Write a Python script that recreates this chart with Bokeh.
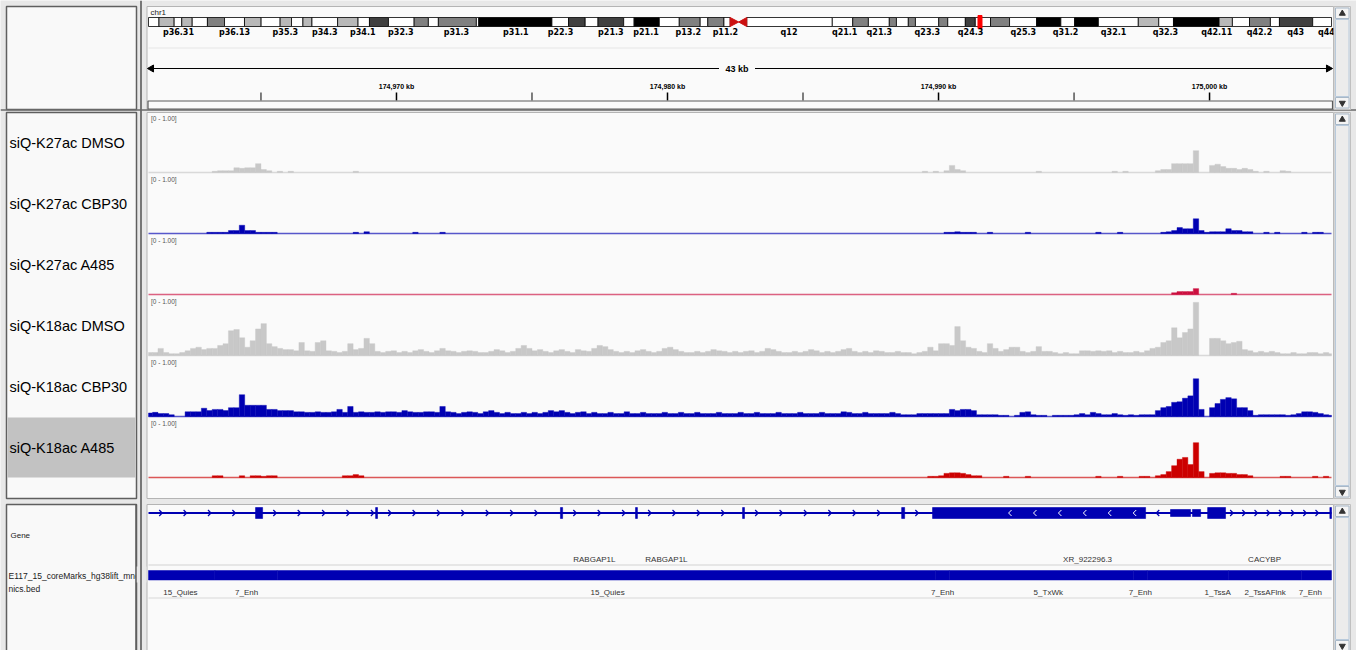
import math
from bokeh.plotting import figure
from bokeh.models import Range1d, ColumnDataSource
from bokeh.embed import file_html
from bokeh.resources import INLINE
from bokeh.core.properties import value

W, H = 1356, 650
FONT = "Liberation Sans"
BAND_FONT = "DejaVu Sans"

# ---------------- locus ----------------
CHROM = "chr1"
CHROM_LEN_MB = 248.956
VIEW_START_KB = 174960.85
VIEW_END_KB = 175004.50
SPAN_LABEL = "43 kb"

# ---------------- chr1 cytobands (Mb) ----------------
band_start = [0.0, 2.2, 5.4, 7.0, 9.2, 12.4, 16.0, 20.2, 23.7, 27.7, 30.1, 32.5, 34.4, 39.8,
              44.1, 46.5, 50.5, 55.9, 58.9, 61.0, 69.0, 69.5, 84.9, 88.4, 91.9, 94.6, 100.0,
              102.2, 107.5, 111.7, 116.1, 117.7, 121.1,
              125.9, 143.9, 148.2, 151.5, 155.9, 157.4, 159.9, 161.4, 166.3, 168.2, 171.9,
              174.0, 177.2, 181.2, 186.9, 192.0, 194.9, 199.9, 208.3, 212.6, 215.7, 225.3,
              228.1, 231.7, 236.1, 238.0, 245.0]
band_stain = ["gneg", "gpos25", "gneg", "gpos25", "gneg", "gpos50", "gneg", "gpos25", "gneg",
              "gpos25", "gneg", "gpos25", "gneg", "gpos25", "gneg", "gpos75", "gneg", "gpos50",
              "gneg", "gpos50", "gneg", "gpos100", "gneg", "gpos75", "gneg", "gpos75", "gneg",
              "gpos100", "gneg", "gpos50", "gneg", "gpos50", "gneg",
              "gneg", "gneg", "gpos50", "gneg", "gpos50", "gneg", "gpos50", "gneg", "gpos50",
              "gneg", "gpos75", "gneg", "gpos50", "gneg", "gpos100", "gneg", "gpos100", "gneg",
              "gpos25", "gneg", "gpos100", "gpos25", "gneg", "gpos50", "gneg", "gpos75", "gneg"]
CEN_START_MB, CEN_MID_MB, CEN_END_MB = 122.4, 124.2, 125.9

band_names = ["p36.31", "p36.13", "p35.3", "p34.3", "p34.1", "p32.3", "p31.3", "p31.1",
              "p22.3", "p21.3", "p21.1", "p13.2", "p11.2", "q12", "q21.1", "q21.3", "q23.3",
              "q24.3", "q25.3", "q31.2", "q32.1", "q32.3", "q42.11", "q42.2", "q43", "q44"]
band_name_mb = [6.3, 18.1, 28.8, 37.1, 45.1, 53.1, 64.8, 77.3, 86.7, 97.3, 104.7, 113.6,
                121.4, 134.8, 146.5, 153.8, 163.9, 173.0, 184.1, 193.0, 203.1, 214.0, 224.8,
                233.8, 241.4, 247.9]

ruler_kb = [174965, 174970, 174975, 174980, 174985, 174990, 174995, 175000]
ruler_text = ["", "174,970 kb", "", "174,980 kb", "", "174,990 kb", "", "175,000 kb"]

# ---------------- coverage tracks (0.2 kb bins, data range 0 - 1.00) ----------------
BIN_START_KB = 174960.8
BIN_KB = 0.2

track_names = ["siQ-K27ac DMSO", "siQ-K27ac CBP30", "siQ-K27ac A485",
               "siQ-K18ac DMSO", "siQ-K18ac CBP30", "siQ-K18ac A485"]
track_colors = ["#c8c8c8", "#0000b2", "#cc1040", "#c8c8c8", "#0000b2", "#cc0000"]
track_range_label = "[0 - 1.00]"

k27_dmso_idx = [12, 13, 14, 15, 16, 17, 18, 19, 20, 21, 22, 24, 26, 38, 143, 145, 147, 148, 149, 150,
                164, 178, 180, 186, 187, 188, 189, 190, 191, 192, 193, 196, 197, 198, 199, 200, 201,
                202, 203, 204, 206, 209, 210]
k27_dmso_val = [0.02, 0.03, 0.03, 0.03, 0.08, 0.07, 0.08, 0.08, 0.15, 0.05, 0.03, 0.02, 0.02, 0.02,
                0.02, 0.02, 0.03, 0.12, 0.05, 0.03, 0.02, 0.02, 0.02, 0.03, 0.05, 0.05, 0.15, 0.15,
                0.15, 0.15, 0.37, 0.12, 0.14, 0.10, 0.07, 0.07, 0.05, 0.07, 0.05, 0.02, 0.02, 0.03,
                0.02]

k27_cbp30_idx = [11, 12, 13, 14, 15, 16, 17, 18, 19, 20, 21, 22, 23, 38, 40, 49, 54, 147, 148, 149,
                 150, 151, 152, 155, 162, 175, 179, 187, 188, 189, 190, 191, 192, 193, 194, 195, 196,
                 197, 198, 199, 200, 201, 202, 203, 206, 208, 213, 215, 216]
k27_cbp30_val = [0.02, 0.02, 0.02, 0.02, 0.05, 0.05, 0.14, 0.05, 0.05, 0.02, 0.02, 0.02, 0.02,
                 0.02, 0.03, 0.02, 0.02, 0.02, 0.02, 0.03, 0.02, 0.02, 0.02, 0.02, 0.02, 0.02, 0.02,
                 0.02, 0.03, 0.05, 0.10, 0.08, 0.08, 0.25, 0.05, 0.02, 0.03, 0.03, 0.03, 0.08, 0.05,
                 0.05, 0.03, 0.03, 0.02, 0.02, 0.02, 0.02, 0.02]

k27_a485_idx = [189, 190, 191, 192, 193, 200]
k27_a485_val = [0.03, 0.05, 0.05, 0.05, 0.10, 0.02]

k18_dmso_val = [
    0.05, 0.05, 0.12, 0.05, 0.03, 0.03, 0.05, 0.08, 0.12, 0.14,
    0.10, 0.12, 0.12, 0.17, 0.20, 0.42, 0.44, 0.30, 0.14, 0.25,
    0.45, 0.54, 0.20, 0.15, 0.12, 0.10, 0.10, 0.08, 0.22, 0.08,
    0.07, 0.22, 0.25, 0.08, 0.07, 0.05, 0.07, 0.20, 0.10, 0.12,
    0.29, 0.20, 0.07, 0.05, 0.07, 0.08, 0.05, 0.07, 0.05, 0.08,
    0.10, 0.07, 0.05, 0.08, 0.12, 0.08, 0.07, 0.05, 0.07, 0.08,
    0.07, 0.05, 0.05, 0.07, 0.10, 0.08, 0.05, 0.07, 0.12, 0.17,
    0.12, 0.08, 0.10, 0.07, 0.05, 0.08, 0.10, 0.07, 0.05, 0.10,
    0.08, 0.07, 0.12, 0.17, 0.15, 0.10, 0.07, 0.05, 0.07, 0.05,
    0.08, 0.10, 0.07, 0.05, 0.07, 0.12, 0.14, 0.10, 0.07, 0.05,
    0.05, 0.07, 0.05, 0.07, 0.10, 0.08, 0.07, 0.05, 0.07, 0.05,
    0.07, 0.08, 0.05, 0.07, 0.12, 0.10, 0.07, 0.05, 0.05, 0.07,
    0.05, 0.07, 0.10, 0.08, 0.05, 0.07, 0.05, 0.07, 0.10, 0.12,
    0.07, 0.05, 0.07, 0.05, 0.08, 0.07, 0.05, 0.05, 0.07,
    0.05, 0.05, 0.03, 0.05, 0.07, 0.14, 0.08, 0.20, 0.20, 0.17, 0.49,
    0.25, 0.14, 0.12, 0.07, 0.05, 0.20, 0.12, 0.07, 0.10, 0.14,
    0.14, 0.07, 0.05, 0.07, 0.15, 0.07, 0.07, 0.05, 0.03, 0.05,
    0.03, 0.03, 0.08, 0.08, 0.07, 0.08, 0.07, 0.08, 0.05, 0.07,
    0.05, 0.05, 0.07, 0.05, 0.08, 0.12, 0.14, 0.22, 0.25, 0.47,
    0.30, 0.39, 0.45, 0.90, 0.00, 0.00, 0.29, 0.29, 0.25, 0.20,
    0.22, 0.24, 0.10, 0.08, 0.05, 0.07, 0.05, 0.07, 0.05, 0.03,
    0.03, 0.05, 0.03, 0.03, 0.05, 0.05, 0.03, 0.05, 0.03]

k18_cbp30_val = [
    0.06, 0.07, 0.05, 0.05, 0.03, 0.00, 0.00, 0.08, 0.08, 0.08,
    0.14, 0.10, 0.12, 0.12, 0.10, 0.15, 0.15, 0.37, 0.19, 0.19,
    0.19, 0.19, 0.12, 0.12, 0.10, 0.10, 0.10, 0.08, 0.08, 0.07,
    0.07, 0.08, 0.07, 0.07, 0.08, 0.12, 0.07, 0.17, 0.07, 0.08,
    0.07, 0.07, 0.08, 0.07, 0.08, 0.08, 0.07, 0.10, 0.08, 0.07,
    0.07, 0.08, 0.08, 0.07, 0.17, 0.08, 0.07, 0.05, 0.07, 0.08,
    0.07, 0.05, 0.08, 0.10, 0.07, 0.05, 0.07, 0.05, 0.05, 0.07,
    0.05, 0.07, 0.05, 0.07, 0.10, 0.08, 0.10, 0.07, 0.05, 0.07,
    0.08, 0.05, 0.07, 0.05, 0.05, 0.07, 0.05, 0.05, 0.08, 0.05,
    0.05, 0.07, 0.05, 0.05, 0.05, 0.07, 0.05, 0.05, 0.07, 0.05,
    0.05, 0.07, 0.05, 0.05, 0.05, 0.07, 0.05, 0.05, 0.05, 0.07,
    0.05, 0.05, 0.07, 0.05, 0.05, 0.05, 0.07, 0.05, 0.05, 0.05,
    0.07, 0.05, 0.05, 0.05, 0.07, 0.05, 0.05, 0.05, 0.08, 0.07,
    0.05, 0.05, 0.07, 0.05, 0.05, 0.05, 0.05, 0.07, 0.05,
    0.03, 0.03, 0.03, 0.05, 0.05, 0.05, 0.05, 0.05, 0.05, 0.12, 0.10,
    0.12, 0.12, 0.10, 0.03, 0.03, 0.03, 0.03, 0.02, 0.02, 0.00,
    0.02, 0.07, 0.08, 0.03, 0.02, 0.02, 0.00, 0.02, 0.02, 0.02,
    0.02, 0.03, 0.05, 0.03, 0.07, 0.05, 0.03, 0.03, 0.05, 0.03,
    0.02, 0.03, 0.02, 0.03, 0.03, 0.03, 0.10, 0.15, 0.17, 0.24,
    0.25, 0.31, 0.35, 0.64, 0.12, 0.00, 0.15, 0.22, 0.29, 0.32,
    0.30, 0.15, 0.15, 0.10, 0.02, 0.03, 0.03, 0.03, 0.03, 0.03,
    0.02, 0.03, 0.05, 0.08, 0.08, 0.07, 0.05, 0.03, 0.02]

k18_a485_idx = [12, 13, 17, 19, 20, 21, 22, 23, 36, 37, 38, 39, 144, 145, 146, 147, 148, 149, 150,
                151, 152, 153, 158, 162, 175, 179, 183, 184, 186, 187, 188, 189, 190, 191, 192, 193,
                194, 196, 197, 198, 199, 200, 201, 202, 203, 209, 210, 215, 217]
k18_a485_val = [0.03, 0.03, 0.03, 0.03, 0.03, 0.02, 0.03, 0.03, 0.03, 0.03, 0.05, 0.03, 0.02, 0.02,
                0.03, 0.07, 0.08, 0.08, 0.07, 0.05, 0.03, 0.03, 0.02, 0.02, 0.02, 0.02, 0.02, 0.02,
                0.03, 0.05, 0.10, 0.20, 0.31, 0.34, 0.22, 0.59, 0.10, 0.07, 0.08, 0.08, 0.07, 0.07,
                0.05, 0.05, 0.03, 0.02, 0.02, 0.02, 0.02]

# ---------------- gene models ----------------
exon_start_kb = [174964.80, 174969.23, 174976.05, 174978.82, 174982.77, 174988.64, 174989.78,
                 174998.56, 174999.37, 174999.93, 175004.44]
exon_end_kb = [174965.06, 174969.30, 174976.13, 174978.89, 174982.84, 174988.75, 174997.64,
               174999.30, 174999.67, 175000.59, 175004.55]
exon_kind = ["cds", "cds", "cds", "cds", "cds", "cds", "cds", "utr", "utr", "cds", "cds"]
minus_strand_kb = (174989.78, 174998.56)   # XR_922296.3 runs on the reverse strand
gene_names = ["RABGAP1L", "RABGAP1L", "XR_922296.3", "CACYBP"]
gene_label_kb = [174977.30, 174979.96, 174995.50, 175002.03]

# ---------------- chromatin states (E117 15-state core marks) ----------------
bed_track_name = ["E117_15_coreMarks_hg38lift_mne", "nics.bed"]
bed_name = ["15_Quies", "7_Enh", "15_Quies", "7_Enh", "5_TxWk", "7_Enh", "1_TssA",
            "2_TssAFlnk", "7_Enh"]
bed_start_kb = [174958.9, 174963.3, 174965.6, 174989.9, 174990.4, 174997.2, 174997.7,
                175000.7, 175003.4]
bed_end_kb = [174963.3, 174965.6, 174989.9, 174990.4, 174997.2, 174997.7, 175000.7,
              175003.4, 175005.0]
bed_label_kb = [174962.03, 174964.47, 174977.79, 174990.15, 174994.05, 174997.45, 175000.30,
                175002.05, 175003.72]

# ================= drawing =================
DX0, DX1 = 148, 1331           # data area (pixels)
TRACK_TOP, TRACK_STEP, BASE_OFF, FULL_PX = 113, 61, 59, 59
BLUE = "#0000b2"
BG = "#e8e8e8"
STAIN = {"gneg": "#ffffff", "gpos25": "#b8b8b8", "gpos50": "#808080",
         "gpos75": "#404040", "gpos100": "#000000"}

p = figure(width=W, height=H, x_range=Range1d(0, W), y_range=Range1d(H, 0),
           output_backend="svg", toolbar_location=None, min_border=0,
           x_axis_location=None, y_axis_location=None)
p.xgrid.visible = False
p.ygrid.visible = False
p.outline_line_color = None
p.background_fill_color = BG
p.border_fill_color = BG

px_per_kb = (DX1 - DX0) / (VIEW_END_KB - VIEW_START_KB)
px_per_mb = (DX1 - DX0) / CHROM_LEN_MB
extra_y = {}
for i in range(len(track_names)):
    base = TRACK_TOP + i * TRACK_STEP + BASE_OFF
    extra_y[f"t{i}"] = Range1d(-(H - base) / FULL_PX, base / FULL_PX)
p.extra_x_ranges = {
    "kb": Range1d(VIEW_START_KB - DX0 / px_per_kb, VIEW_START_KB + (W - DX0) / px_per_kb),
    "mb": Range1d(-DX0 / px_per_mb, (W - DX0) / px_per_mb),
}
p.extra_y_ranges = extra_y


def text(xs, ys, texts, size, color="#000000", align="left", bold=False, xr=None, font=FONT):
    kw = {"x_range_name": xr} if xr else {}
    p.text(x=xs, y=ys, text=texts, text_font=value(font), text_font_size=f"{size}px",
           text_color=color, text_align=align, text_baseline="middle",
           text_font_style="bold" if bold else "normal", **kw)


def box(x0, x1, y0, y1, fill, line=None, lw=1.0, xr=None):
    kw = {"x_range_name": xr} if xr else {}
    p.quad(left=[x0], right=[x1], top=[y0], bottom=[y1], fill_color=fill,
           line_color=line, line_width=lw, **kw)


def chevrons(xs, y, direction, color, lw=1.2):
    # small open arrowheads, as drawn along a transcript to show its strand
    dx = 0.055 * direction
    p.multi_line(xs=[[x - dx, x + dx, x - dx] for x in xs], ys=[[y - 3, y, y + 3] for _ in xs],
                 line_color=color, line_width=lw, x_range_name="kb")


# panels: name column and data column
PANELS = [(6, 109), (112, 498), (504, 652)]
for y0, y1 in PANELS:
    box(6, 136, y0, y1, "#f9f9f9", "#5f5f5f", 1.5)
    box(146.5, 1333, y0, y1, "#fafafa", "#b4b4b4", 1.0)

# ---- header: chromosome ideogram ----
text([150], [12], [CHROM], 8, "#222222")
b_end = band_start[1:] + [CHROM_LEN_MB]
b_end = [CEN_START_MB if band_start[k] < CEN_START_MB and b_end[k] > CEN_START_MB else b_end[k]
         for k in range(len(band_start))]
p.quad(left=band_start, right=b_end, top=[17] * len(band_start), bottom=[26] * len(band_start),
       fill_color=[STAIN[s] for s in band_stain], line_color="#000000", line_width=0.8,
       x_range_name="mb")
p.patches(xs=[[CEN_START_MB, CEN_START_MB, CEN_MID_MB], [CEN_END_MB, CEN_END_MB, CEN_MID_MB]],
          ys=[[17, 26, 21.5], [17, 26, 21.5]], fill_color="#cc1010", line_color="#cc1010",
          x_range_name="mb")
view_mid_mb = (VIEW_START_KB + VIEW_END_KB) / 2 / 1000.0
p.rect(x=[view_mid_mb], y=[21.5], width=4, height=13, width_units="screen",
       fill_color="#ff0000", line_color="#ff0000", x_range_name="mb")
text(band_name_mb, [32] * len(band_names), band_names, 8, "#000000", "center", True, "mb",
     BAND_FONT)
p.segment(x0=[DX0], y0=[47.5], x1=[DX1], y1=[47.5], line_color="#e6e6e6", line_width=1)

# ---- header: ruler ----
p.segment(x0=[DX0 + 2], y0=[68], x1=[DX1 - 2], y1=[68], line_color="#000000", line_width=1)
p.scatter(x=[DX0 + 3], y=[68], marker="triangle", size=7, angle=math.pi / 2, color="#000000")
p.scatter(x=[DX1 - 3], y=[68], marker="triangle", size=7, angle=-math.pi / 2, color="#000000")
mid_px = (DX0 + DX1) / 2 - 3
box(mid_px - 18, mid_px + 18, 62, 74, "#fafafa")
text([mid_px], [68.5], [SPAN_LABEL], 9, "#000000", "center", True)
major = [k for k, t in zip(ruler_kb, ruler_text) if t]
minor = [k for k, t in zip(ruler_kb, ruler_text) if not t]
p.segment(x0=major, y0=[92] * len(major), x1=major, y1=[100] * len(major),
          line_color="#000000", line_width=1.5, x_range_name="kb")
p.segment(x0=minor, y0=[92] * len(minor), x1=minor, y1=[100] * len(minor),
          line_color="#000000", line_width=1, x_range_name="kb")
text(major, [86] * len(major), [t for t in ruler_text if t], 7, "#000000", "center", True, "kb")
box(147.5, 1332, 100.5, 108.5, "#fafafa", "#5a5a5a", 1.2)

# ---- coverage tracks ----
track_data = [
    (k27_dmso_idx, k27_dmso_val),
    (k27_cbp30_idx, k27_cbp30_val),
    (k27_a485_idx, k27_a485_val),
    (list(range(len(k18_dmso_val))), k18_dmso_val),
    (list(range(len(k18_cbp30_val))), k18_cbp30_val),
    (k18_a485_idx, k18_a485_val),
]
for i, ((idx, vals), name, col) in enumerate(zip(track_data, track_names, track_colors)):
    top = TRACK_TOP + i * TRACK_STEP
    base = top + BASE_OFF
    if i == len(track_names) - 1:
        box(7, 135, top - 1, base, "#c2c2c2")
    text([9], [top + 29], [name], 14.5, "#000000")
    text([150.5], [top + 4.5], [track_range_label], 6.5, "#555555")
    left, right, hts = [], [], []
    for b, v in zip(idx, vals):
        if v <= 0:
            continue
        a = BIN_START_KB + b * BIN_KB
        left.append(max(a, VIEW_START_KB))
        right.append(min(a + BIN_KB, VIEW_END_KB))
        hts.append(v)
    src = ColumnDataSource(dict(left=left, right=right, top=hts, bottom=[0] * len(hts)))
    p.quad(left="left", right="right", top="top", bottom="bottom", source=src,
           fill_color=col, line_color=col, line_width=0.4,
           x_range_name="kb", y_range_name=f"t{i}")
    p.segment(x0=[VIEW_START_KB], y0=[0], x1=[VIEW_END_KB], y1=[0], line_color=col,
              line_alpha=0.65, line_width=1.6, x_range_name="kb", y_range_name=f"t{i}")

# ---- gene track ----
GY = 512.5
text([10], [535], ["Gene"], 8, "#222222")
p.segment(x0=[VIEW_START_KB], y0=[GY], x1=[VIEW_END_KB], y1=[GY], line_color=BLUE,
          line_width=2, x_range_name="kb")
ex_top = [507 if k == "cds" else 509 for k in exon_kind]
ex_bot = [518 if k == "cds" else 516 for k in exon_kind]
p.quad(left=exon_start_kb, right=[min(e, VIEW_END_KB) for e in exon_end_kb], top=ex_top,
       bottom=ex_bot, fill_color=BLUE, line_color=BLUE, line_width=0.6, x_range_name="kb")

# strand chevrons along introns
order = sorted(range(len(exon_start_kb)), key=lambda k: exon_start_kb[k])
gaps, prev = [], VIEW_START_KB
for k in order:
    if exon_start_kb[k] > prev:
        gaps.append((prev, exon_start_kb[k]))
    prev = max(prev, exon_end_kb[k])
if prev < VIEW_END_KB:
    gaps.append((prev, VIEW_END_KB))
fwd, rev = [], []
for a, b in gaps:
    step = 0.45 if a >= 174999.9 else 0.9
    x = a + step / 2
    while x < b - 0.1:
        (rev if minus_strand_kb[0] <= x <= minus_strand_kb[1] else fwd).append(x)
        x += step
chevrons(fwd, GY, 1, BLUE)
chevrons(rev, GY, -1, BLUE)
# chevrons inside the long reverse-strand exon
big = max(range(len(exon_start_kb)), key=lambda k: exon_end_kb[k] - exon_start_kb[k])
inner, x = [], exon_end_kb[big] - 0.4
while x > exon_start_kb[big] + 2.6:
    inner.append(x)
    x -= 0.92
chevrons(inner, GY, -1, "#ffffff", 1.0)
text(gene_label_kb, [559] * len(gene_names), gene_names, 8, "#333333", "center", False, "kb")
p.segment(x0=[DX0], y0=[564.5], x1=[DX1], y1=[564.5], line_color="#d2d2d2", line_width=1)

# ---- chromatin state track ----
text([8, 8], [575, 588], bed_track_name, 8.5, "#222222")
p.quad(left=[max(s, VIEW_START_KB) for s in bed_start_kb],
       right=[min(e, VIEW_END_KB) for e in bed_end_kb],
       top=[570] * len(bed_name), bottom=[579.5] * len(bed_name),
       fill_color=BLUE, line_color=BLUE, line_width=0.5, x_range_name="kb")
text(bed_label_kb, [592] * len(bed_name), bed_name, 8, "#333333", "center", False, "kb")
p.segment(x0=[DX0], y0=[597.5], x1=[DX1], y1=[597.5], line_color="#d8d8d8", line_width=1)

# name column clips its text at the panel edge
box(135.3, 146, 566, 582, BG)
p.segment(x0=[135.5], y0=[504], x1=[135.5], y1=[H], line_color="#5f5f5f", line_width=1.5)
p.segment(x0=[140.5], y0=[0], x1=[140.5], y1=[H], line_color="#2a2a2a", line_width=1.2)
p.segment(x0=[0], y0=[109.5], x1=[W], y1=[109.5], line_color="#6a6a6a", line_width=1.5)

# ---- scrollbars ----
for y0, y1 in PANELS:
    box(1333.5, 1350, y0, y1, "#e8e8e8", "#c0c0c0", 1)
    box(1335, 1348.5, y0 + 13, y1 - 13, "#ececec", "#b8cadc", 1)
    box(1335, 1348.5, y0 + 1.5, y0 + 12, "#f4f4f4", "#a8b8c8", 1)
    box(1335, 1348.5, y1 - 12, y1 - 1.5, "#f4f4f4", "#a8b8c8", 1)
    p.scatter(x=[1341.8], y=[y0 + 7], marker="triangle", size=6, color="#333333")
    p.scatter(x=[1341.8], y=[y1 - 6.5], marker="inverted_triangle", size=6, color="#333333")

open("out.html", "w").write(file_html(p, INLINE))
